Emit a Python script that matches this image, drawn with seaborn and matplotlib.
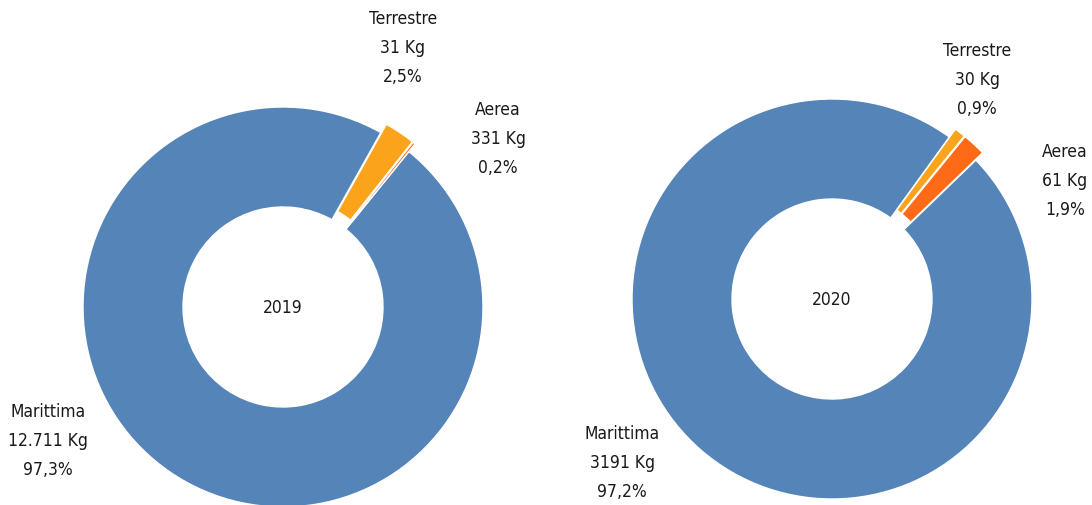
import matplotlib
matplotlib.use("Agg")
import matplotlib.pyplot as plt
import seaborn as sns

# data
categories = ["Marittima", "Terrestre", "Aerea"]
years = ["2019", "2020"]
share_2019 = [97.3, 2.5, 0.2]
share_2020 = [97.2, 0.9, 1.9]
kg_2019 = ["12.711 Kg", "31 Kg", "331 Kg"]
kg_2020 = ["3191 Kg", "30 Kg", "61 Kg"]

colors = ["#5585B8", "#FCA31C", "#FF6A16"]

sns.set_theme(style="white")
plt.rcParams["font.family"] = ["DejaVu Sans"]
plt.rcParams["font.stretch"] = "condensed"

W, H = 1092, 506
R = 200.0  # outer radius in px
fig = plt.figure(figsize=(W / 100, H / 100), dpi=100)

# layout: pie centre (px from left/top), start angle, label centres (px)
layout = [
    dict(center=(283, 308), start=51,
         labels=[(48, 441), (403, 48), (498, 139)]),
    dict(center=(832, 300), start=44,
         labels=[(622, 463), (977, 80), (1065, 181)]),
]


def fmt_pct(v):
    return f"{v:.1f}%".replace(".", ",")


for year, shares, kgs, lay in zip(years, [share_2019, share_2020],
                                  [kg_2019, kg_2020], layout):
    cx, cy = lay["center"]
    half = 250
    ax = fig.add_axes([(cx - half) / W, (H - cy - half) / H,
                       2 * half / W, 2 * half / H])
    ax.pie(shares, colors=colors, startangle=lay["start"], counterclock=False,
           explode=[0, 0.05, 0.05], radius=1,
           wedgeprops=dict(width=0.5, edgecolor="white", linewidth=1))
    lim = half / R
    ax.set_xlim(-lim, lim)
    ax.set_ylim(-lim, lim)
    ax.set_aspect("equal")
    ax.axis("off")
    ax.text(0, 0, year, ha="center", va="center", fontsize=12.5, color="#1a1a1a")
    for name, kg, v, (lx, ly) in zip(categories, kgs, shares, lay["labels"]):
        ax.text((lx - cx) / R, (cy - ly) / R, f"{name}\n{kg}\n{fmt_pct(v)}",
                ha="center", va="center", fontsize=12.5, color="#1a1a1a",
                linespacing=1.8, clip_on=False)

fig.savefig("out.png", dpi=100)
